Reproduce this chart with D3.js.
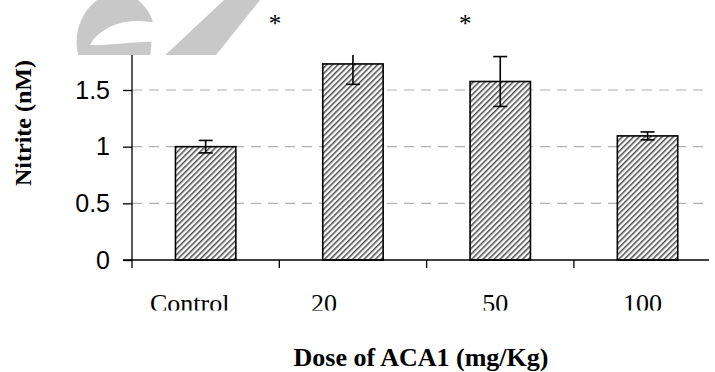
<!DOCTYPE html>
<html>
<head>
<meta charset="utf-8">
<script src="https://cdn.jsdelivr.net/npm/d3@7"></script>
<style>
  body { margin: 0; background: #fff; }
  svg { display: block; }
</style>
</head>
<body>
<div id="chart"></div>
<script>
// data
const doses = ["Control", "20", "50", "100"];
const nitrite = [1.0, 1.73, 1.575, 1.095];
const nitriteErr = [0.055, 0.18, 0.22, 0.035];
const starred = ["20", "50"];
const yTicks = [0, 0.5, 1, 1.5];

const width = 715, height = 372;
const margin = { left: 132, top: 56, bottom: 260 };

const svg = d3.select("#chart").append("svg")
    .attr("width", width)
    .attr("height", height);

const defs = svg.append("defs");

// diagonal hatch for the bars
const hatch = defs.append("pattern")
    .attr("id", "hatch")
    .attr("patternUnits", "userSpaceOnUse")
    .attr("width", 4)
    .attr("height", 4)
    .attr("patternTransform", "rotate(45)");
hatch.append("rect").attr("width", 4).attr("height", 4).attr("fill", "#fff");
hatch.append("rect").attr("width", 1.6).attr("height", 4).attr("fill", "#555");

defs.append("clipPath").attr("id", "plotClip")
  .append("rect").attr("x", 0).attr("y", margin.top - 1).attr("width", width).attr("height", height);
defs.append("clipPath").attr("id", "markClip")
  .append("rect").attr("x", 0).attr("y", 0).attr("width", 265).attr("height", margin.top - 1);
defs.append("clipPath").attr("id", "labelClip")
  .append("rect").attr("x", 0).attr("y", 270).attr("width", width).attr("height", 40.5);

// grey watermark remains above the plot (just shapes, cut at the plot top)
const mark = svg.append("g")
    .attr("clip-path", "url(#markClip)")
    .attr("fill", "#c8c8c8");
mark.append("path")
    .attr("d", "M97,0 L138,0 C147,8 152,16 153,24 L150,60 L80,60 C72,40 78,15 97,0 Z");
mark.append("path")
    .attr("fill", "#fff")
    .attr("d", "M90,45 C100,27 124,18 150,22 L158,22 L158,42 C135,41 110,46 90,45 Z");
mark.append("path")
    .attr("d", "M160,60 L212,60 L260,0 L224,0 Z");

const x = d3.scaleBand()
    .domain(doses)
    .range([margin.left, margin.left + 147.3 * doses.length])
    .paddingInner(0.59)
    .paddingOuter(0.295);

const y = d3.scaleLinear()
    .domain([0, 1.8])
    .range([margin.bottom, margin.top]);

const rightEdge = 709;

// dashed grid
svg.append("g")
    .selectAll("line")
    .data(yTicks.filter(d => d > 0))
    .join("line")
    .attr("x1", margin.left)
    .attr("x2", rightEdge)
    .attr("y1", d => y(d))
    .attr("y2", d => y(d))
    .attr("stroke", "#b0b0b0")
    .attr("stroke-width", 1.2)
    .attr("stroke-dasharray", "10,7");

// bars
svg.append("g")
    .selectAll("rect")
    .data(doses)
    .join("rect")
    .attr("x", d => x(d))
    .attr("y", (d, i) => y(nitrite[i]))
    .attr("width", x.bandwidth())
    .attr("height", (d, i) => y(0) - y(nitrite[i]))
    .attr("fill", "url(#hatch)")
    .attr("stroke", "#000")
    .attr("stroke-width", 1.6);

// error bars
const err = svg.append("g")
    .attr("clip-path", "url(#plotClip)")
    .attr("stroke", "#000")
    .attr("stroke-width", 1.6)
    .selectAll("g")
    .data(doses)
    .join("g")
    .attr("transform", d => `translate(${x(d) + x.bandwidth() / 2},0)`);

err.append("line")
    .attr("y1", (d, i) => y(nitrite[i] - nitriteErr[i]))
    .attr("y2", (d, i) => y(nitrite[i] + nitriteErr[i]));
err.append("line")
    .attr("x1", -7).attr("x2", 7)
    .attr("y1", (d, i) => y(nitrite[i] - nitriteErr[i]))
    .attr("y2", (d, i) => y(nitrite[i] - nitriteErr[i]));
err.append("line")
    .attr("x1", -7).attr("x2", 7)
    .attr("y1", (d, i) => y(nitrite[i] + nitriteErr[i]))
    .attr("y2", (d, i) => y(nitrite[i] + nitriteErr[i]));

// y axis
const yAxis = svg.append("g")
    .attr("transform", `translate(${margin.left},0)`)
    .call(d3.axisLeft(y).tickValues(yTicks).tickSize(9).tickPadding(13).tickFormat(d3.format("")));
yAxis.select(".domain").attr("d", `M0,${y(0)}V${margin.top - 1}`).attr("stroke-width", 1.3);
yAxis.selectAll(".tick line").attr("stroke-width", 1.3);
yAxis.selectAll("text")
    .style("font", "25px 'Liberation Sans', Arial, sans-serif")
    .attr("fill", "#000");

// x axis: ticks sit between the categories
const xAxis = svg.append("g");
xAxis.append("line")
    .attr("x1", margin.left - 9)
    .attr("x2", rightEdge)
    .attr("y1", y(0))
    .attr("y2", y(0))
    .attr("stroke", "#000")
    .attr("stroke-width", 1.6);
xAxis.selectAll(".xtick")
    .data(doses)
    .join("line")
    .attr("class", "xtick")
    .attr("x1", d => x(d) - x.step() * x.paddingOuter())
    .attr("x2", d => x(d) - x.step() * x.paddingOuter())
    .attr("y1", y(0))
    .attr("y2", y(0) + 8)
    .attr("stroke", "#000")
    .attr("stroke-width", 1.3);

// category labels, bottom edge is cut off like in the source
const labelShift = [-16, -29, -5, -5];
svg.append("g")
    .attr("clip-path", "url(#labelClip)")
    .selectAll("text")
    .data(doses)
    .join("text")
    .attr("x", (d, i) => x(d) + x.bandwidth() / 2 + labelShift[i])
    .attr("y", 312)
    .attr("text-anchor", "middle")
    .style("font", "26px 'Liberation Serif', 'Times New Roman', serif")
    .text(d => d);

// significance marks
const starShift = { "20": -78, "50": -35 };
svg.append("g")
    .selectAll("text")
    .data(starred)
    .join("text")
    .attr("x", d => x(d) + x.bandwidth() / 2 + starShift[d])
    .attr("y", 32)
    .attr("text-anchor", "middle")
    .style("font", "25px 'Liberation Serif', 'Times New Roman', serif")
    .text("*");

// axis titles
svg.append("text")
    .attr("x", 421)
    .attr("y", 366)
    .attr("text-anchor", "middle")
    .style("font", "bold 26px 'Liberation Serif', 'Times New Roman', serif")
    .text("Dose of ACA1 (mg/Kg)");

svg.append("text")
    .attr("transform", "translate(31,123) rotate(-90)")
    .attr("text-anchor", "middle")
    .style("font", "bold 24px 'Liberation Serif', 'Times New Roman', serif")
    .text("Nitrite (nM)");
</script>
</body>
</html>
